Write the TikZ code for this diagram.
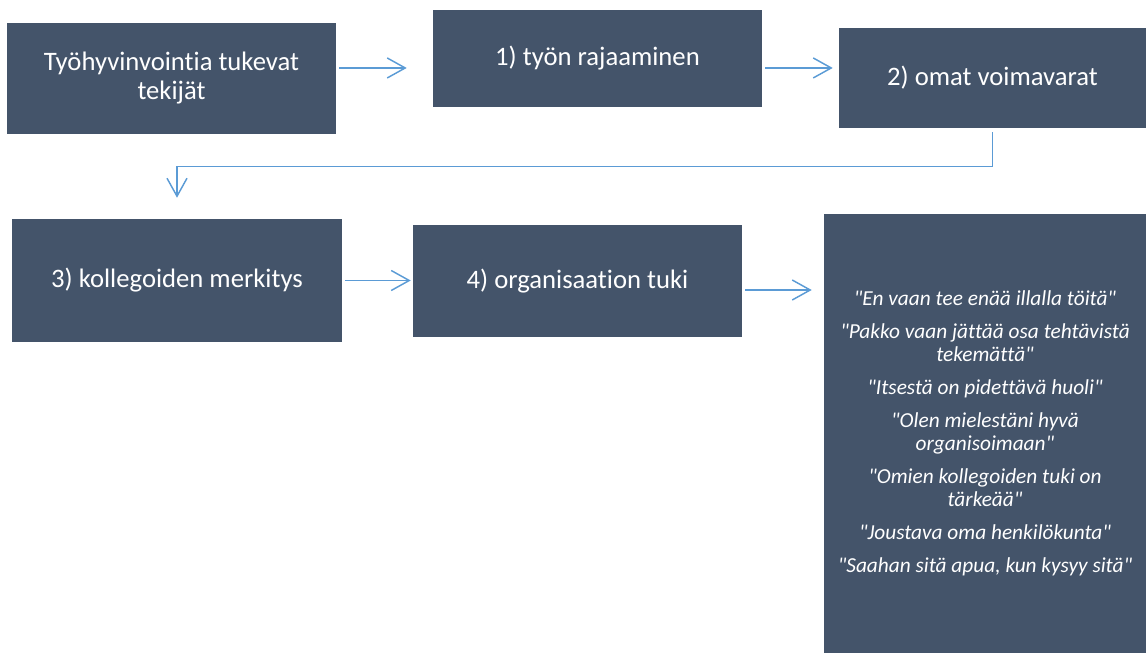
\documentclass[tikz,border=0pt]{standalone}
\usepackage{fontspec}
\setmainfont{Carlito}[Ligatures={TeX,NoCommon}]
\newfontfamily\plainquote{Carlito}[Ligatures=NoCommon]
\usepackage{tikz}
\usepackage{xcolor}
\usetikzlibrary{arrows.meta,positioning,calc}
\definecolor{slate}{HTML}{44546A}
\definecolor{flow}{HTML}{5B9BD5}
\tikzset{
  block/.style={fill=slate, text=white, inner sep=0pt, align=center,
                font=\fontsize{20}{21.75}\selectfont},
  quotes/.style={fill=slate, text=white, inner sep=0pt, align=center,
                 font=\plainquote\fontsize{16}{17.25}\selectfont\itshape},
  arrow/.style={-{Straight Barb[length=13.5pt,width=15pt]}, line width=1.1pt, draw=flow}
}

\begin{document}
\begin{tikzpicture}[x=0.75pt,y=-0.75pt]
        \useasboundingbox (0,0) rectangle (1146,653);
        % upper row
        \node[block,minimum width=246.75pt,minimum height=83.25pt] (tekijat) at (171.5,78.5)
          {Työhyvinvointia tukevat\\tekijät};
        \node[block,minimum width=246.75pt,minimum height=72.75pt] (rajaus) at (597.5,58.5)
          {1) työn rajaaminen};
        \node[block,minimum width=230.25pt,minimum height=75pt] (voimavarat) at (992.5,78)
          {2) omat voimavarat};
        % lower row
        \node[block,minimum width=247.5pt,minimum height=92.25pt] (kollegat) at (177,280.5)
          {3) kollegoiden merkitys};
        \node[block,minimum width=246.75pt,minimum height=84pt] (organisaatio) at (577.5,281)
          {4) organisaation tuki};
        \node[quotes,minimum width=241.5pt,minimum height=329.25pt] (sitaatit) at (985,433.5)
          {"En vaan tee enää illalla töitä"\\[7.5pt]
           "Pakko vaan jättää osa tehtävistä\\tekemättä"\\[7.5pt]
           "Itsestä on pidettävä huoli"\\[7.5pt]
           "Olen mielestäni hyvä\\organisoimaan"\\[7.5pt]
           "Omien kollegoiden tuki on\\tärkeää"\\[7.5pt]
           "Joustava oma henkilökunta"\\[7.5pt]
           "Saahan sitä apua, kun kysyy sitä"};
        % connectors
        \draw[arrow,shorten <=2.25pt,shorten >=19.5pt] ([yshift=7.9pt]tekijat.east) coordinate (ab)
          -- (ab -| rajaus.west);
        \draw[arrow,shorten <=2.25pt,shorten >=4.5pt] ([yshift=-7.1pt]rajaus.east) coordinate (bc)
          -- (bc -| voimavarat.west);
        \draw[arrow,shorten <=3pt,shorten >=15.75pt] (voimavarat.south) -- ++(0,38)
          -| (kollegat.north);
        \draw[arrow,shorten <=2.25pt,shorten >=1.5pt] (kollegat.east)
          -- (kollegat.east -| organisaatio.west);
        \draw[arrow,shorten <=2.25pt,shorten >=9pt] ([yshift=-6.75pt]organisaatio.east) coordinate (ef)
          -- (ef -| sitaatit.west);
      \end{tikzpicture}
\end{document}
